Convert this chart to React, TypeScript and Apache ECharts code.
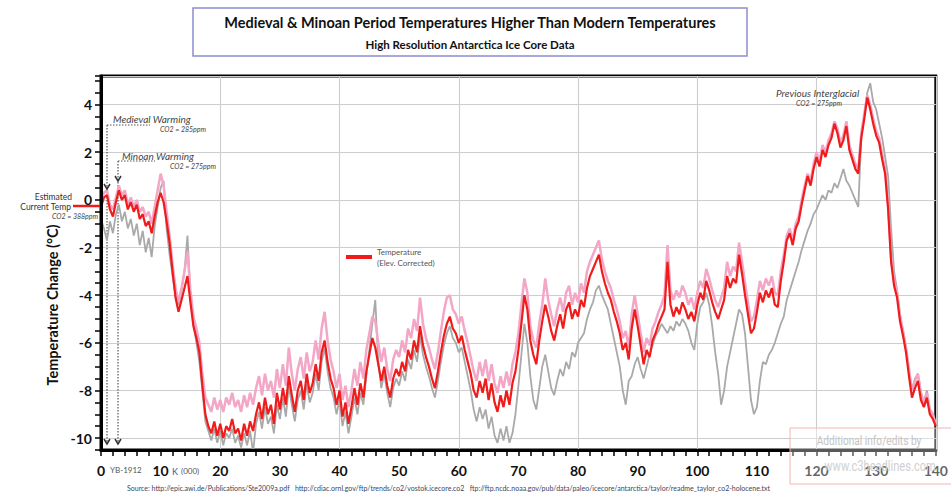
import React, { useEffect, useRef } from "react";
import * as echarts from "echarts";

// thousand years between samples (age axis, K years before 1912)
const AGE_STEP = 0.5;

// Temperature (Elev. Corrected) – red
const TEMPERATURE = [
  -0.3, 0.1, 0.2, -0.4, -0.7, -0.1, 0.4, 0.0, 0.2, -0.4, -0.1, -0.5, -0.2, -0.8, -0.6, -1.1, -0.9, -1.4, -0.7, -0.1,
  0.3, -0.1, -0.9, -1.8, -3.0, -4.1, -4.7, -4.2, -3.7, -3.2, -4.3, -5.3, -5.8, -6.4, -7.8, -9.0, -9.5, -9.8, -9.3, -9.9,
  -9.4, -10.0, -9.5, -9.7, -9.2, -9.8, -9.6, -10.1, -9.4, -9.9, -9.3, -9.7, -9.0, -8.5, -9.2, -8.3, -9.0, -8.6, -9.4, -8.1,
  -8.8, -7.9, -8.6, -7.4, -8.2, -8.9, -8.0, -7.6, -8.4, -7.3, -8.1, -7.7, -6.9, -7.6, -6.4, -5.9, -6.8, -7.5, -7.9, -8.6,
  -8.0, -9.1, -8.5, -9.4, -8.7, -7.9, -8.6, -7.7, -8.3, -7.2, -6.5, -5.8, -6.2, -6.9, -7.6, -7.0, -7.8, -8.3, -7.5, -7.1,
  -7.4, -6.8, -7.2, -6.3, -6.7, -5.9, -6.4, -5.3, -6.1, -6.6, -7.0, -7.5, -7.9, -7.2, -6.4, -5.7, -5.2, -4.9, -5.4, -5.6,
  -6.0, -5.7, -6.3, -6.8, -7.3, -8.0, -8.3, -7.6, -8.1, -7.5, -8.4, -7.7, -8.5, -8.9, -8.2, -8.7, -8.0, -8.6, -7.7, -7.2,
  -6.3, -5.2, -4.0, -4.6, -5.9, -6.5, -6.9, -5.9, -5.1, -4.4, -4.9, -5.5, -5.9, -5.3, -4.8, -5.4, -4.6, -4.3, -5.0, -4.6,
  -4.9, -4.2, -4.5, -3.7, -3.2, -2.9, -2.6, -2.3, -3.0, -3.5, -3.9, -4.2, -4.7, -5.1, -5.6, -6.3, -6.0, -6.7, -5.4, -4.6,
  -5.3, -6.1, -6.9, -6.3, -6.6, -5.9, -5.6, -5.2, -4.9, -4.6, -2.6, -4.4, -4.9, -4.5, -4.8, -4.3, -4.6, -5.0, -4.7, -5.1,
  -4.4, -3.9, -4.2, -3.4, -3.8, -4.3, -4.7, -5.0, -4.6, -4.2, -3.2, -3.7, -3.3, -3.5, -2.3, -3.1, -4.0, -4.8, -5.6, -5.4,
  -4.7, -3.9, -4.3, -3.8, -4.1, -3.7, -4.4, -4.5, -3.4, -2.6, -1.7, -1.4, -1.9, -1.2, -0.9, -0.2, 0.4, 1.0, 0.6, 1.3,
  1.8, 1.4, 2.1, 1.8, 2.3, 2.6, 3.2, 2.8, 2.2, 2.5, 3.1, 2.1, 1.7, 1.3, 1.1, 2.6, 3.4, 4.3, 3.8, 3.2,
  2.7, 2.4, 1.7, 1.1, -0.4, -2.6, -3.6, -4.1, -5.1, -5.7, -6.4, -7.4, -8.3, -7.9, -7.6, -8.4, -8.7, -8.3, -9.0, -9.2, -9.5,
];

// upper (pink) record
const UPPER = [
  -0.1, 0.3, 0.4, -0.2, -0.4, 0.1, 0.6, 0.2, 0.4, -0.2, 0.1, -0.3, 0.0, -0.5, -0.3, -0.7, -0.5, -1.0, -0.3, 0.4,
  1.1, 0.6, -0.5, -1.5, -2.7, -3.7, -4.3, -3.7, -3.0, -2.2, -3.8, -4.9, -5.4, -6.0, -7.3, -8.3, -8.6, -8.9, -8.3, -8.8,
  -8.4, -8.9, -8.3, -8.6, -8.1, -8.7, -8.4, -8.9, -8.2, -8.7, -8.1, -8.6, -7.9, -7.4, -8.2, -7.3, -8.0, -7.6, -8.3, -7.1,
  -7.9, -6.9, -7.8, -6.2, -7.3, -8.0, -7.1, -6.6, -7.5, -6.4, -7.2, -6.8, -5.9, -6.7, -5.4, -4.7, -5.9, -6.7, -7.2, -7.9,
  -7.3, -8.4, -7.8, -8.7, -8.0, -7.1, -7.8, -6.8, -7.5, -6.3, -5.6, -4.9, -5.1, -6.0, -6.8, -6.2, -7.1, -7.6, -6.7, -6.3,
  -6.6, -5.9, -6.4, -5.4, -5.8, -5.0, -5.5, -4.1, -5.2, -5.8, -6.2, -6.7, -7.1, -6.4, -5.5, -4.7, -4.1, -4.0, -4.6, -4.8,
  -5.2, -4.9, -5.5, -6.0, -6.6, -7.2, -7.6, -6.8, -7.4, -6.7, -7.6, -6.9, -7.7, -8.1, -7.4, -7.9, -7.2, -7.8, -6.9, -6.4,
  -5.6, -4.4, -3.3, -3.9, -5.3, -5.9, -6.2, -5.2, -4.4, -3.3, -4.2, -4.8, -5.3, -4.6, -4.1, -4.7, -3.9, -3.6, -4.4, -3.9,
  -4.3, -3.5, -3.9, -3.0, -2.6, -2.3, -2.0, -1.7, -2.5, -3.0, -3.4, -3.7, -4.2, -4.6, -5.1, -5.8, -5.5, -6.2, -4.8, -4.0,
  -4.8, -5.6, -6.4, -5.8, -6.1, -5.4, -5.1, -4.7, -4.4, -4.0, -1.9, -3.8, -4.2, -3.8, -4.1, -3.6, -3.9, -4.4, -4.1, -4.6,
  -3.9, -3.4, -3.7, -2.9, -3.3, -3.8, -4.2, -4.5, -4.1, -3.7, -2.6, -3.2, -2.8, -3.0, -1.8, -2.6, -3.5, -4.3, -5.1, -4.9,
  -4.2, -3.4, -3.8, -3.3, -3.6, -3.2, -3.9, -4.0, -3.0, -2.3, -1.5, -1.2, -1.7, -1.0, -0.7, 0.0, 0.6, 1.1, 0.8, 1.5,
  2.0, 1.6, 2.3, 2.0, 2.5, 2.8, 3.3, 3.0, 2.4, 2.7, 3.3, 2.3, 1.9, 1.5, 1.3, 2.8, 3.6, 4.4, 4.0, 3.4,
  2.9, 2.6, 1.9, 1.3, -0.2, -2.4, -3.4, -3.9, -4.9, -5.5, -6.2, -7.1, -8.0, -7.6, -7.3, -8.1, -8.5, -8.1, -8.8, -9.0, -9.4,
];

// lower (grey) record
const LOWER = [
  -0.8, -1.2, -1.7, -0.9, -1.4, -0.6, -0.2, -0.9, -0.5, -1.2, -0.8, -1.5, -1.0, -1.9, -1.3, -2.2, -1.6, -2.4, -1.1, -0.3,
  0.5, 0.8, -1.2, -2.3, -3.2, -4.0, -4.4, -3.8, -3.0, -1.5, -4.0, -5.2, -6.0, -6.8, -8.0, -9.3, -9.7, -10.1, -9.6, -10.2,
  -9.7, -10.3, -9.8, -10.0, -9.6, -10.2, -9.9, -10.4, -9.8, -10.3, -9.7, -10.6, -9.4, -8.9, -9.6, -8.7, -9.4, -9.1, -9.8, -8.6,
  -9.2, -8.3, -9.1, -7.8, -8.6, -9.3, -8.4, -8.0, -8.8, -7.7, -8.5, -8.1, -7.3, -8.0, -6.8, -6.2, -7.2, -7.9, -8.3, -9.0,
  -8.4, -9.5, -8.9, -9.8, -9.1, -8.3, -9.0, -8.1, -8.6, -7.4, -6.3, -5.2, -4.2, -6.8, -7.9, -7.3, -8.1, -8.7, -7.9, -7.5,
  -7.8, -7.2, -7.6, -6.7, -7.1, -6.3, -6.8, -5.7, -6.5, -7.0, -7.4, -7.9, -8.3, -7.6, -6.8, -6.1, -5.6, -5.3, -5.8, -6.0,
  -6.4, -6.2, -6.8, -7.4, -8.0, -8.8, -9.3, -8.7, -9.2, -8.8, -9.6, -9.1, -9.9, -10.2, -9.6, -10.1, -9.5, -10.2, -9.8, -9.0,
  -7.8, -6.5, -5.2, -6.0, -7.4, -8.4, -8.8, -7.9, -7.0, -6.5, -7.2, -7.9, -8.2, -7.6, -7.1, -7.4, -6.8, -7.1, -6.4, -6.6,
  -6.0, -5.8, -5.6, -5.0, -4.6, -4.3, -3.8, -3.6, -4.0, -4.3, -4.6, -5.2, -5.8, -6.4, -7.0, -8.0, -8.6, -7.6, -7.4, -6.9,
  -6.6, -7.1, -7.5, -7.0, -6.5, -6.1, -5.7, -5.5, -5.2, -5.4, -5.6, -5.3, -5.5, -5.1, -5.3, -5.0, -5.2, -5.5, -6.0, -6.3,
  -5.2, -4.5, -4.3, -3.9, -4.4, -5.3, -6.4, -7.3, -8.6, -8.0, -7.0, -6.4, -5.8, -5.2, -4.6, -4.8, -5.6, -7.0, -8.4, -9.0,
  -8.7, -7.6, -6.8, -6.9, -6.5, -6.3, -6.0, -5.6, -5.2, -4.9, -4.2, -3.8, -3.4, -3.0, -2.6, -2.1, -1.7, -1.3, -1.0, -0.6,
  -0.4, -0.1, 0.2, 0.0, 0.4, 0.3, 0.7, 0.5, 0.9, 1.3, 0.8, 0.6, 0.3, 0.0, -0.3, 2.6, 3.6, 4.5, 4.9, 4.1,
  3.8, 3.2, 2.6, 1.8, 1.0, -1.2, -3.0, -3.8, -4.8, -5.5, -6.2, -7.2, -8.0, -7.5, -7.3, -8.1, -8.5, -8.0, -8.8, -9.1, -9.4,
];

const X_LABELS = [0, 10, 20, 30, 40, 50, 60, 70, 80, 90, 100, 110, 120, 130, 140];
const Y_LABELS = [-10, -8, -6, -4, -2, 0, 2, 4];
const GRID_X_STEP = 20;
const GRID_Y_STEP = 2;

const TITLE = "Medieval & Minoan Period Temperatures Higher Than Modern Temperatures";
const SUBTITLE = "High Resolution Antarctica Ice Core Data";
const SOURCE =
  "Source: http://epic.awi.de/Publications/Ste2009a.pdf   http://cdiac.ornl.gov/ftp/trends/co2/vostok.icecore.co2   ftp://ftp.ncdc.noaa.gov/pub/data/paleo/icecore/antarctica/taylor/readme_taylor_co2-holocene.txt";

const FONT = "Lato, 'Open Sans', 'Noto Sans', sans-serif";
const NARROW = "Roboto, 'Liberation Sans', sans-serif";

const X_MIN = 0;
const X_MAX = 140;
const Y_MIN = -10.5;
const Y_MAX = 5.2;

function toPoints(vals: number[]) {
  return vals.map((v, i) => [i * AGE_STEP, v]);
}

function near(v: number, list: number[]) {
  return list.some((t) => Math.abs(v - t) < 1e-6);
}

function txt(x: number, y: number, text: string, style: any, extra: any = {}) {
  return {
    type: "text",
    x,
    y,
    z: 100,
    ...extra,
    style: { text, fontFamily: FONT, textVerticalAlign: "middle", ...style },
  };
}

function dotted(x1: number, y1: number, x2: number, y2: number) {
  return {
    type: "line",
    z: 1,
    shape: { x1, y1, x2, y2 },
    style: { stroke: "#555", lineWidth: 1.2, lineDash: [1.5, 1.5] },
  };
}

function arrowHead(x: number, y: number) {
  return {
    type: "polyline",
    z: 100,
    shape: { points: [[x - 3, y - 5], [x, y], [x + 3, y - 5]] },
    style: { stroke: "#333", lineWidth: 1.5, fill: null },
  };
}

const hiddenAxisParts = {
  axisLine: { show: false },
  axisTick: { show: false },
  axisLabel: { show: false },
};

export default function App() {
  const ref = useRef<HTMLDivElement>(null);

  useEffect(() => {
    if (!ref.current) return;
    const chart = echarts.init(ref.current, null, { renderer: "svg" });

    const italicGrey = { fill: "#444", fontStyle: "italic" };

    const option: any = {
      animation: false,
      backgroundColor: "#fff",
      grid: {
        left: 101,
        right: 13,
        top: 76,
        bottom: 44,
        show: true,
        borderColor: "#000",
        borderWidth: 3,
        backgroundColor: "transparent",
      },
      legend: {
        data: ["Temperature"],
        left: 346,
        top: 246,
        padding: 0,
        itemWidth: 26,
        itemHeight: 4,
        itemGap: 4,
        icon: "rect",
        formatter: () => "Temperature\n(Elev. Corrected)",
        textStyle: { fontSize: 8, color: "#555", fontFamily: FONT, lineHeight: 11 },
      },
      xAxis: [
        {
          type: "value",
          min: X_MIN,
          max: X_MAX,
          interval: 2,
          z: 5,
          axisLine: { show: true, onZero: false, lineStyle: { color: "#000", width: 3 } },
          axisTick: { show: true, length: 6, lineStyle: { color: "#000", width: 1.5 } },
          axisLabel: {
            margin: 13,
            fontSize: 14,
            fontWeight: "bold",
            color: "#111",
            fontFamily: FONT,
            formatter: (v: number) => (near(v, X_LABELS) ? String(Math.round(v)) : ""),
          },
          splitLine: { show: false },
        },
        {
          type: "value",
          min: X_MIN,
          max: X_MAX,
          interval: GRID_X_STEP,
          position: "top",
          z: 0,
          ...hiddenAxisParts,
          splitLine: { show: true, lineStyle: { color: "#cdcdcd", width: 1.1 } },
        },
      ],
      yAxis: [
        {
          type: "value",
          min: Y_MIN,
          max: Y_MAX,
          interval: 0.5,
          z: 5,
          axisLine: { show: true, onZero: false, lineStyle: { color: "#000", width: 3 } },
          axisTick: { show: true, length: 6, lineStyle: { color: "#000", width: 1.5 } },
          axisLabel: {
            margin: 9,
            fontSize: 14,
            fontWeight: "bold",
            color: "#111",
            fontFamily: FONT,
            formatter: (v: number) => (near(v, Y_LABELS) ? String(Math.round(v)) : ""),
          },
          splitLine: { show: false },
        },
        {
          type: "value",
          min: Y_MIN,
          max: Y_MAX,
          minInterval: GRID_Y_STEP,
          maxInterval: GRID_Y_STEP,
          position: "right",
          z: 0,
          ...hiddenAxisParts,
          splitLine: { show: true, lineStyle: { color: "#cdcdcd", width: 1.1 } },
        },
      ],
      series: [
        {
          name: "Lower",
          type: "line",
          data: toPoints(LOWER),
          symbol: "none",
          showSymbol: false,
          silent: true,
          z: 2,
          lineStyle: { color: "#a9a9a9", width: 1.8 },
        },
        {
          name: "Upper",
          type: "line",
          data: toPoints(UPPER),
          symbol: "none",
          showSymbol: false,
          silent: true,
          z: 3,
          lineStyle: { color: "#f4a6c6", width: 2.5 },
        },
        {
          name: "Temperature",
          type: "line",
          data: toPoints(TEMPERATURE),
          symbol: "none",
          showSymbol: false,
          silent: true,
          z: 4,
          itemStyle: { color: "#f01c1c" },
          lineStyle: { color: "#f01c1c", width: 2.2 },
        },
      ],
      graphic: [
        // title box
        {
          type: "rect",
          z: 50,
          shape: { x: 193, y: 8, width: 554, height: 48 },
          style: { fill: "#fff", stroke: "#8c8cd2", lineWidth: 1.5 },
        },
        txt(470, 22, TITLE, { fontSize: 14.5, fontWeight: "bold", fill: "#111", textAlign: "center" }),
        txt(470, 44, SUBTITLE, { fontSize: 11.5, fontWeight: "bold", fill: "#111", textAlign: "center" }),

        // y axis title
        txt(52, 305, "Temperature Change (°C)", {
          fontSize: 14.5,
          fontWeight: "bold",
          fill: "#111",
          textAlign: "center",
        }, { rotation: Math.PI / 2 }),

        // estimated current temp
        txt(72, 197, "Estimated", { fontSize: 8.5, fill: "#333", textAlign: "right" }),
        txt(71, 207, "Current Temp", { fontSize: 8.5, fill: "#333", textAlign: "right" }),
        txt(98, 216, "CO2 = 388ppm", { fontSize: 7, textAlign: "right", ...italicGrey }),

        // medieval warming
        dotted(107, 125, 150, 125),
        dotted(107, 125, 107, 443),
        arrowHead(107, 189),
        arrowHead(107, 444),
        txt(113, 119, "Medieval Warming", { fontSize: 10, ...italicGrey }),
        txt(160, 129, "CO2 = 285ppm", { fontSize: 7, ...italicGrey }),

        // minoan warming
        dotted(118, 161, 155, 161),
        dotted(118, 161, 118, 443),
        arrowHead(118, 181),
        arrowHead(118, 444),
        txt(122, 156, "Minoan Warming", { fontSize: 10, ...italicGrey }),
        txt(170, 166, "CO2 = 275ppm", { fontSize: 7, ...italicGrey }),

        // previous interglacial
        txt(776, 93, "Previous Interglacial", { fontSize: 10, ...italicGrey }),
        txt(796, 103, "CO2 = 275ppm", { fontSize: 7, ...italicGrey }),

        // x axis unit notes
        txt(110, 470, "YB-1912", { fontSize: 8, fill: "#555" }),
        txt(172, 471, "{k|K} {p|(000)}", {
          rich: {
            k: { fontSize: 9, fill: "#2f55b0", fontFamily: FONT },
            p: { fontSize: 8, fill: "#555", fontFamily: FONT },
          },
        }),

        // source
        txt(127, 488, SOURCE, { fontSize: 7, fill: "#3a4660" }),

        // watermark
        {
          type: "rect",
          z: 120,
          shape: { x: 790, y: 428, width: 170, height: 56 },
          style: { fill: "rgba(255,255,255,0.35)", stroke: "#f0b4b4", lineWidth: 1 },
        },
        txt(869, 441, "Additional info/edits by", {
          fontSize: 13,
          fill: "#c4c4c4",
          textAlign: "center",
          fontFamily: NARROW,
        }, { z: 121, scaleX: 0.78 }),
        txt(880, 466, "www.c3headlines.com", {
          fontSize: 15,
          fill: "#d0d0d0",
          textAlign: "center",
          fontFamily: NARROW,
        }, { z: 121, scaleX: 0.74 }),

        // red pointer to the current temperature, placed via a translated group
        {
          type: "group",
          id: "currentTempPointer",
          x: 73,
          y: 206,
          z: 110,
          children: [
            {
              type: "line",
              shape: { x1: 0, y1: 0, x2: 27, y2: 0 },
              style: { stroke: "#f01c1c", lineWidth: 2.5 },
            },
          ],
        },
      ],
    };

    chart.setOption(option);
    return () => chart.dispose();
  }, []);

  return (
    <div
      ref={ref}
      style={{ position: "fixed", left: 0, top: 0, width: 951, height: 494, background: "#fff" }}
    />
  );
}
